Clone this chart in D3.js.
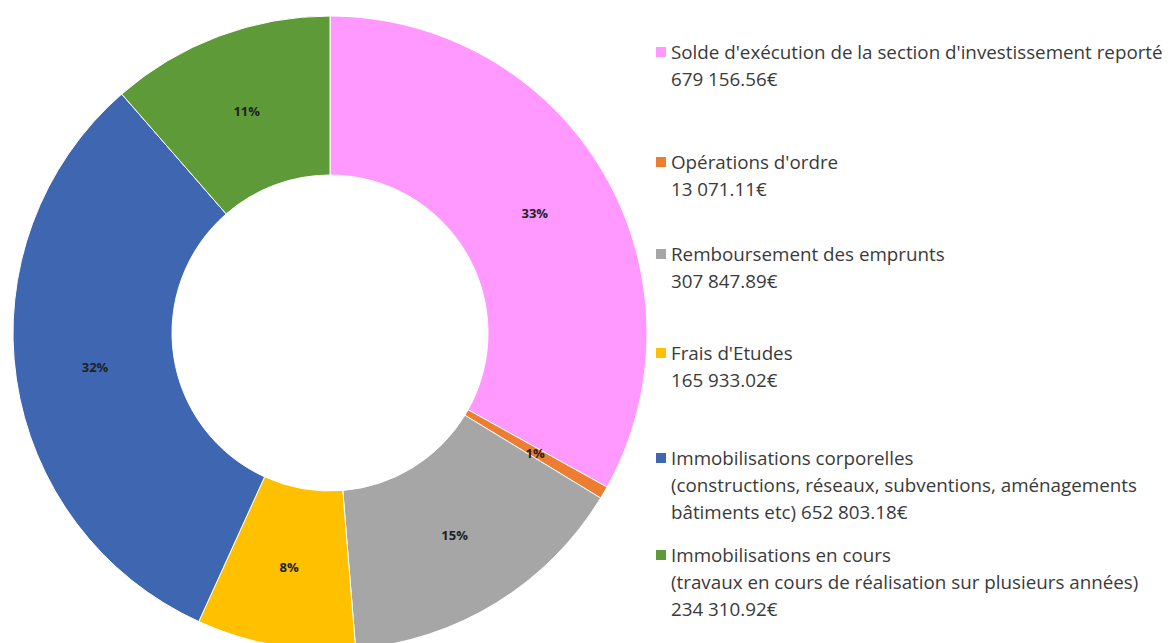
<!DOCTYPE html>
<html>
<head>
<meta charset="utf-8">
<script src="https://cdn.jsdelivr.net/npm/d3@7/dist/d3.min.js"></script>
<style>
  html, body { margin: 0; padding: 0; background: #fff; }
  svg { display: block; }
</style>
</head>
<body>
<svg id="chart" width="1176" height="643"></svg>
<script>
// ---- data ----
const categories = [
  "Solde d'exécution de la section d'investissement reporté",
  "Opérations d'ordre",
  "Remboursement des emprunts",
  "Frais d'Etudes",
  "Immobilisations corporelles",
  "Immobilisations en cours"
];
const values = [679156.56, 13071.11, 307847.89, 165933.02, 652803.18, 234310.92];
const pctLabels = ["33%", "1%", "15%", "8%", "32%", "11%"];
const legendLines = [
  ["Solde d'exécution de la section d'investissement reporté", "679 156.56€"],
  ["Opérations d'ordre", "13 071.11€"],
  ["Remboursement des emprunts", "307 847.89€"],
  ["Frais d'Etudes", "165 933.02€"],
  ["Immobilisations corporelles", "(constructions, réseaux, subventions, aménagements", "bâtiments etc) 652 803.18€"],
  ["Immobilisations en cours", "(travaux en cours de réalisation sur plusieurs années)", "234 310.92€"]
];
const colors = ["#FF99FF", "#ED7D31", "#A6A6A6", "#FFC000", "#3F67B1", "#5E9B38"];

// ---- layout ----
const svg = d3.select("#chart");
const cx = 330, cy = 333, rOuter = 317, rInner = 158;
const font = "Open Sans, Liberation Sans, sans-serif";

const color = d3.scaleOrdinal().domain(categories).range(colors);
const pie = d3.pie().sort(null).value(d => d.value);
const arcs = pie(categories.map((c, i) => ({ cat: c, value: values[i], label: pctLabels[i] })));
const arc = d3.arc().innerRadius(rInner).outerRadius(rOuter);
const labelArc = d3.arc().innerRadius((rInner + rOuter) / 2).outerRadius((rInner + rOuter) / 2);

const g = svg.append("g").attr("transform", `translate(${cx},${cy})`);
g.selectAll("path.slice").data(arcs).join("path")
  .attr("class", "slice")
  .attr("d", arc)
  .attr("fill", d => color(d.data.cat))
  .attr("stroke", "#fff")
  .attr("stroke-width", 1);

g.selectAll("text.pct").data(arcs).join("text")
  .attr("class", "pct")
  .attr("transform", d => { const [x, y] = labelArc.centroid(d); return `translate(${x},${y})`; })
  .attr("text-anchor", "middle")
  .attr("dominant-baseline", "central")
  .attr("font-family", font)
  .attr("font-size", 13)
  .attr("font-weight", "bold")
  .attr("fill", "#222")
  .text(d => d.data.label);

// ---- legend ----
const legendTop = [52, 162, 254, 353, 458, 555];
const lineH = 27;
const lx = 661;
const lg = svg.append("g");
categories.forEach((c, i) => {
  const item = lg.append("g").attr("transform", `translate(${lx},${legendTop[i]})`);
  item.append("rect").attr("x", -5).attr("y", -5).attr("width", 10).attr("height", 10).attr("fill", color(c));
  const t = item.append("text")
    .attr("font-family", font).attr("font-size", 18.8).attr("fill", "#3a3a3a");
  legendLines[i].forEach((line, j) => {
    t.append("tspan").attr("x", 10).attr("y", j * lineH).attr("dominant-baseline", "central").text(line);
  });
});
</script>
</body>
</html>
